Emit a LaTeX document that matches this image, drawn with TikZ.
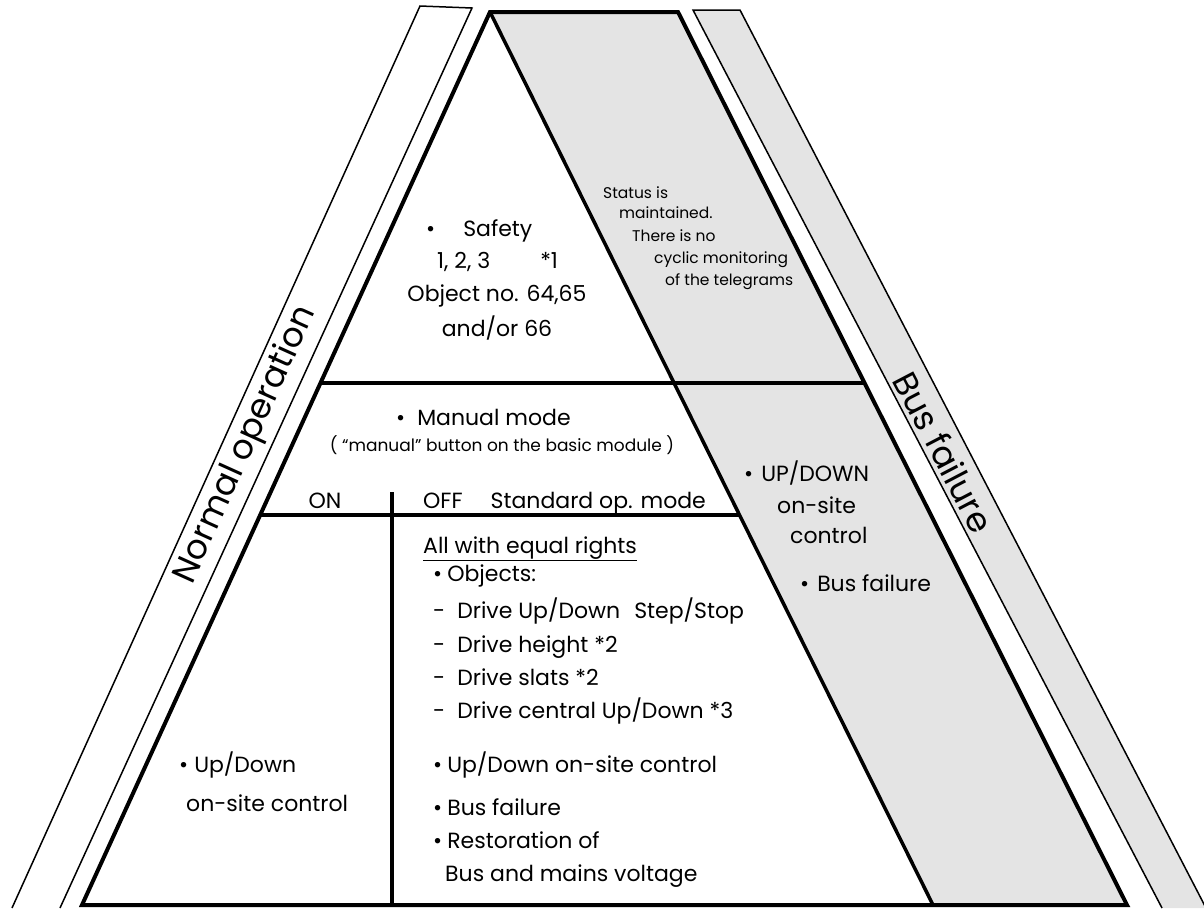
\documentclass[tikz,border=0pt]{standalone}
\usepackage{fontspec}
\setmainfont{Poppins}
\usepackage{xcolor}
\usetikzlibrary{calc}
\definecolor{grisFondo}{HTML}{E4E4E4}
\definecolor{negroBorde}{HTML}{000000}

\begin{document}
\begin{tikzpicture}[
  x=1pt, y=-1pt,
  % Estilos de lineas
  bordeGrueso/.style={
    draw=negroBorde, line width=4pt, line join=miter
  },
  bordeFino/.style={
    draw=negroBorde, line width=1.5pt
  },
  separador/.style={
    draw=negroBorde, line width=3.5pt
  },
  % Estilos de texto
  txtMain/.style={
    font=\fontsize{22}{26}\selectfont, inner sep=0pt, anchor=base west
  },
  txtCentro/.style={
    font=\fontsize{22}{26}\selectfont, inner sep=0pt, anchor=base
  },
  txtChico/.style={
    font=\fontsize{15.5}{18}\selectfont, inner sep=0pt, anchor=base west
  },
  txtBanda/.style={
    font=\fontsize{34}{38}\selectfont, inner sep=0pt
  }
]
\useasboundingbox (0,0) rectangle (1204,908);

% --- Puntos de la piramide ---
\coordinate (apex) at (490,12);
\coordinate (bl)   at (82,905);
\coordinate (bm)   at (933,905);
\coordinate (br)   at (1127,905);
\coordinate (tr)   at (678,12);

% --- Zona gris (fallo de bus) ---
\fill[grisFondo] (apex) -- (tr) -- (br) -- (bm) -- cycle;
\fill[grisFondo] (693,10) -- (740,10) -- (1206,908) -- (1162,908) -- cycle;

% --- Bandas laterales ---
\draw[bordeFino] (12,908) -- (420,6) -- (472,8) -- (60,908);
\draw[bordeFino] (1162,908) -- (693,10) -- (740,10) -- (1206,908);

% --- Separadores ---
\draw[separador] ($(apex)!0.4155!(bl)$) -- ($(tr)!0.4155!(br)$);
\draw[separador] ($(apex)!0.5633!(bl)$) -- ($(apex)!0.5633!(bm)$);
\draw[separador] (392,492) -- (392,905);
\draw[separador] (apex) -- (bm);

% --- Contorno ---
\draw[bordeGrueso] (apex) -- (bl) -- (br) -- (tr) -- cycle;

% --- Seguridad ---
\node[txtMain]   (safety) at (426,236) {•\hspace{28pt}Safety};
\node[txtMain]   (prio)   at (437,268) {1, 2, 3\hspace{50pt}*1};
\node[txtCentro] (objeto) at (497,301) {Object no. 64,65};
\node[txtCentro] (andor)  at (497,336) {and/or 66};

% --- Texto gris superior ---
\node[txtChico] (status)  at (603,198) {Status is};
\node[txtChico] (maint)   at (619,218) {maintained.};
\node[txtChico] (thereis) at (632,241) {There is no};
\node[txtChico] (cyclic)  at (654,263) {cyclic monitoring};
\node[txtChico] (teleg)   at (665,285) {of the telegrams};

% --- Modo manual ---
\node[txtMain] (manual) at (396,425) {•\hspace{12pt}Manual mode};
\node[txtCentro, font=\fontsize{17}{20}\selectfont] (boton) at (502,451)
  {( “manual” button on the basic module )};
\node[txtCentro] (on)  at (325,508) {ON};
\node[txtMain]   (off) at (423,508) {OFF\hspace{28pt}Standard op. mode};

% --- Texto gris medio ---
\node[txtMain] (updown)  at (744,481) {•\hspace{8pt}UP/DOWN};
\node[txtMain] (onsite)  at (777,513) {on-site};
\node[txtMain] (control) at (790,543) {control};
\node[txtMain] (busfail) at (800,591) {•\hspace{8pt}Bus failure};

% --- Modo estandar ---
\node[txtMain] (igual)   at (423,553) {\underline{All with equal rights}};
\node[txtMain] (objs)    at (433,581) {•\hspace{5pt}Objects:};
\node[txtMain] (drive1)  at (433,618) {-\hspace{12pt}Drive Up/Down\hspace{14pt}Step/Stop};
\node[txtMain] (drive2)  at (433,652) {-\hspace{12pt}Drive height *2};
\node[txtMain] (drive3)  at (433,685) {-\hspace{12pt}Drive slats *2};
\node[txtMain] (drive4)  at (433,718) {-\hspace{12pt}Drive central Up/Down *3};
\node[txtMain] (local)   at (433,772) {•\hspace{5pt}Up/Down on-site control};
\node[txtMain] (fallo)   at (433,815) {•\hspace{5pt}Bus failure};
\node[txtMain] (restaur) at (433,848) {•\hspace{5pt}Restoration of};
\node[txtMain] (tension) at (445,881) {Bus and mains voltage};

% --- Modo ON ---
\node[txtMain] (updownOn) at (179,772) {•\hspace{6pt}Up/Down};
\node[txtMain] (onsiteOn) at (186,811) {on-site control};

% --- Bandas: textos girados ---
\node[txtBanda, rotate=65.7]  (normal)  at (246,445) {Normal operation};
\node[txtBanda, rotate=-62.4] (busBand) at (944,452) {Bus failure};

\end{tikzpicture}
\end{document}
